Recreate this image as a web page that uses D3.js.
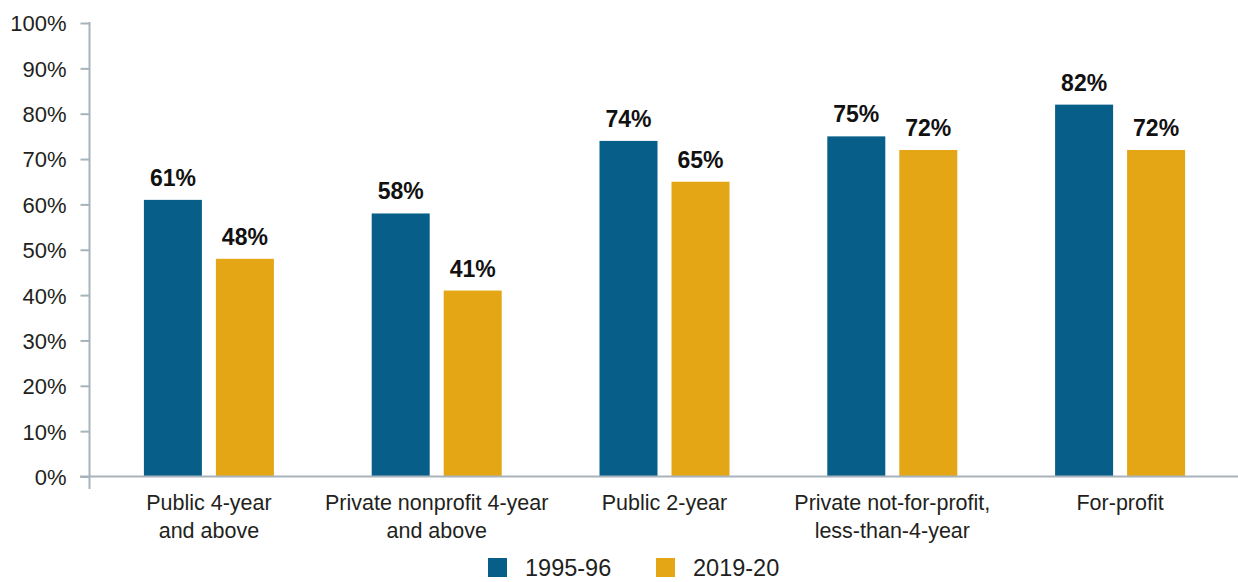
<!DOCTYPE html>
<html>
<head>
<meta charset="utf-8">
<script src="https://cdn.jsdelivr.net/npm/d3@7"></script>
<style>
  html, body { margin: 0; padding: 0; background: #fff; }
  svg { display: block; }
  text { font-family: "Liberation Sans", Arial, sans-serif; fill: #231f20; }
</style>
</head>
<body>
<svg id="chart" width="1238" height="582"></svg>
<script>
// Share of students, by sector, in two survey years
const categories = [
  ["Public 4-year", "and above"],
  ["Private nonprofit 4-year", "and above"],
  ["Public 2-year"],
  ["Private not-for-profit,", "less-than-4-year"],
  ["For-profit"]
];
const seriesNames = ["1995-96", "2019-20"];
const values1995 = [61, 58, 74, 75, 82];
const values2019 = [48, 41, 65, 72, 72];
const yTicks = [0, 10, 20, 30, 40, 50, 60, 70, 80, 90, 100];
const colors = ["#065e89", "#e4a614"];

const svg = d3.select("#chart");
const axisColor = "#a7b3bb";

const y = d3.scaleLinear().domain([0, 100]).range([476.5, 23]);
const x0 = d3.scaleBand().domain(d3.range(categories.length)).range([95, 1234]).paddingInner(0).paddingOuter(0);
const x1 = d3.scaleBand().domain([0, 1]).range([-65, 65]).paddingInner(14 / 72).paddingOuter(0);

// Y axis
const yAxis = d3.axisLeft(y).tickValues(yTicks).tickFormat(d => d + "%").tickSize(9).tickPadding(14);
const gy = svg.append("g").attr("transform", "translate(89.5,0)").call(yAxis);
gy.select(".domain").remove();
gy.selectAll(".tick line").attr("stroke", axisColor).attr("stroke-width", 2);
gy.selectAll(".tick text").style("font-size", "22px").style("font-family", "'Liberation Sans', Arial, sans-serif")
  .attr("dy", "0.36em").style("fill", "#231f20");
svg.append("line").attr("x1", 89.5).attr("x2", 89.5).attr("y1", y(100) - 1).attr("y2", 489)
  .attr("stroke", axisColor).attr("stroke-width", 2);

// Bars
const series = [values1995, values2019];
const groups = svg.append("g").selectAll("g").data(categories).join("g")
  .attr("transform", (d, i) => `translate(${x0(i) + x0.bandwidth() / 2},0)`);

series.forEach((vals, s) => {
  groups.append("rect")
    .attr("x", x1(s))
    .attr("width", x1.bandwidth())
    .attr("y", (d, i) => y(vals[i]))
    .attr("height", (d, i) => y(0) - y(vals[i]))
    .attr("fill", colors[s]);
  groups.append("text")
    .attr("x", x1(s) + x1.bandwidth() / 2)
    .attr("y", (d, i) => y(vals[i]) - 14)
    .attr("text-anchor", "middle")
    .style("font-size", "23px")
    .style("font-weight", "bold")
    .style("fill", "#111")
    .text((d, i) => vals[i] + "%");
});

// X axis baseline
svg.append("line").attr("x1", 80).attr("x2", 1238).attr("y1", y(0)).attr("y2", y(0))
  .attr("stroke", axisColor).attr("stroke-width", 2);

// Category labels
groups.append("text")
  .attr("text-anchor", "middle")
  .style("font-size", "21.5px")
  .selectAll("tspan").data(d => d).join("tspan")
  .attr("x", 0)
  .attr("y", (d, i) => 510 + i * 28)
  .text(d => d);

// Legend
const legend = svg.append("g");
const legendX = [488, 656];
seriesNames.forEach((name, s) => {
  legend.append("rect").attr("x", legendX[s]).attr("y", 558).attr("width", 19).attr("height", 19).attr("fill", colors[s]);
  legend.append("text").attr("x", legendX[s] + 37).attr("y", 576).style("font-size", "23.5px").text(name);
});
</script>
</body>
</html>
